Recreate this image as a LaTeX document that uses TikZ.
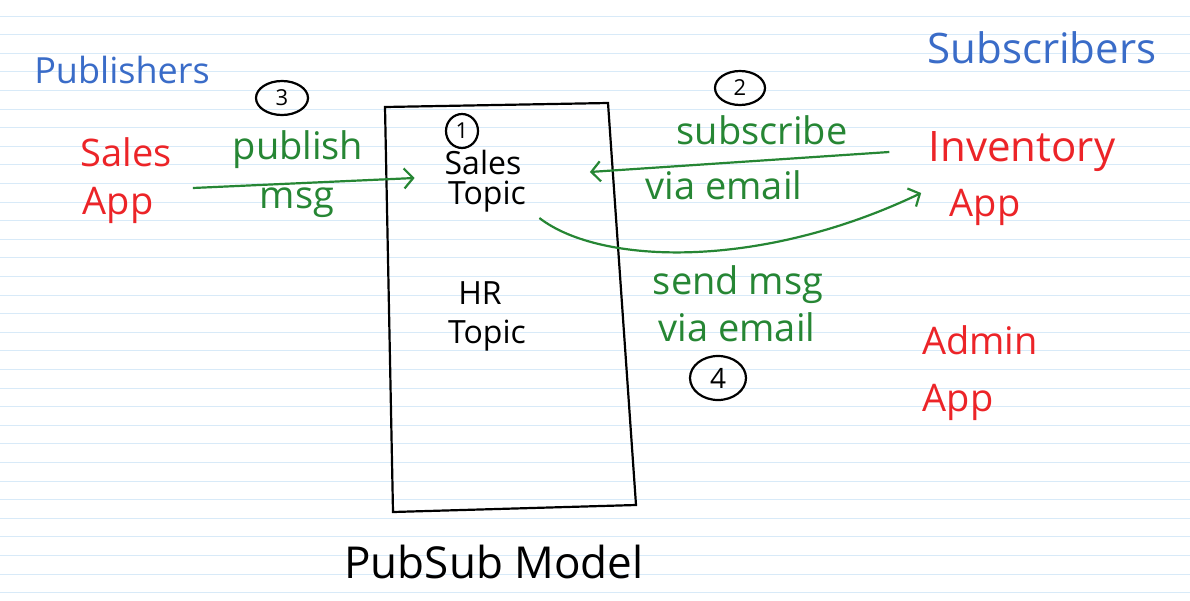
\documentclass[tikz,border=0pt]{standalone}
\usepackage{fontspec}
\setmainfont{Open Sans}
\usetikzlibrary{arrows.meta,shapes.geometric}
\definecolor{paperline}{RGB}{216,234,248}
\definecolor{inkblue}{RGB}{58,108,200}
\definecolor{inkred}{RGB}{236,36,40}
\definecolor{inkgreen}{RGB}{38,134,52}
\begin{document}
\begin{tikzpicture}[x=1pt,y=-1pt,
  heading/.style={text=inkblue,font=\fontsize{36}{40}\selectfont},
  app/.style={text=inkred,font=\fontsize{38}{42}\selectfont},
  topic/.style={font=\fontsize{32}{36}\selectfont},
  note/.style={text=inkgreen,font=\fontsize{38}{42}\selectfont},
  stepnum/.style={draw,ellipse,line width=2.2pt,inner sep=0pt,
    font=\fontsize{22}{24}\selectfont},
  flow/.style={draw=inkgreen,line width=2.2pt,
    -{Straight Barb[length=9pt,width=20pt,line width=2.2pt]}}]
  \useasboundingbox (0,0) rectangle (1190,600);
  \fill[white] (0,0) rectangle (1190,600);
  \foreach \k in {0,...,31}
    \draw[paperline,line width=1pt] (0,16+18.6*\k) -- (1190,16+18.6*\k);

  \node[heading] (publishers) at (122,70) {Publishers};
  \node[heading,font=\fontsize{42}{46}\selectfont] (subscribers) at (1042,48) {Subscribers};

  \node[app] (salesname) at (126,152) {Sales};
  \node[app] (salesapp) at (118,205) {App};
  \node[app,font=\fontsize{42}{46}\selectfont] (inventory) at (1022,152) {Inventory};
  \node[app] (inventoryapp) at (985,207) {App};
  \node[app] (admin) at (980,340) {Admin};
  \node[app] (adminapp) at (958,402) {App};

  \draw[line width=2.2pt] (385,107) -- (608,103) -- (636,505) -- (393,512) -- cycle;
  \node[stepnum,minimum width=32pt,minimum height=34pt] (one) at (462,131) {1};
  \node[topic] (salestitle) at (483,162) {Sales};
  \node[topic] (salestopic) at (487,197) {Topic};
  \node[topic] (hrtitle) at (480,293) {HR};
  \node[topic] (hrtopic) at (487,336) {Topic};

  \node[stepnum,minimum width=52pt,minimum height=34pt] (three) at (282,98) {3};
  \node[note] (publish) at (298,150) {publish};
  \node[note] (pubmsg) at (297,203) {msg};
  \draw[flow] ([xshift=36pt,yshift=17pt]salesapp.east)
    -- ([xshift=-30pt,yshift=19pt]salestopic.west);

  \node[stepnum,minimum width=50pt,minimum height=34pt] (two) at (740,88) {2};
  \node[note] (subscribe) at (762,130) {subscribe};
  \node[note] (subvia) at (724,185) {via email};
  \draw[flow] ([xshift=-36pt]inventory.west)
    -- ([xshift=65pt,yshift=-10pt]salestitle.east);

  \node[note] (sendmsg) at (738,285) {send msg};
  \node[note] (sendvia) at (737,327) {via email};
  \node[stepnum,minimum width=56pt,minimum height=44pt,font=\fontsize{28}{30}\selectfont] (four) at (718,378) {4};
  \draw[flow] ([xshift=10pt,yshift=-21pt]salestopic.east)
    .. controls (600,265) and (760,270) .. ([xshift=-25pt,yshift=14pt]inventoryapp.west);

  \node[font=\fontsize{44}{48}\selectfont] (model) at (494,562) {PubSub Model};
\end{tikzpicture}
\end{document}
